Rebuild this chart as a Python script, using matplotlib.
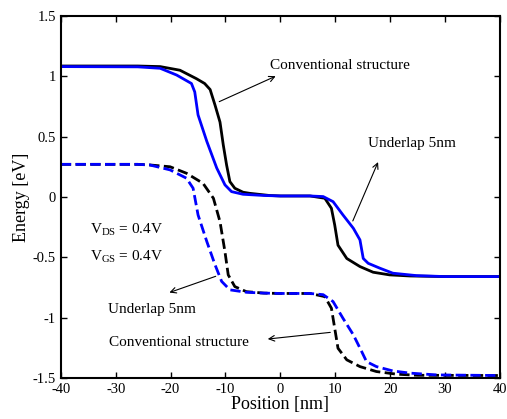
import matplotlib
matplotlib.use("Agg")
import matplotlib.pyplot as plt

plt.rcParams['font.family'] = ['Liberation Serif', 'DejaVu Serif']
plt.rcParams['axes.unicode_minus'] = False
plt.rcParams['mathtext.fontset'] = 'custom'
plt.rcParams['mathtext.rm'] = 'Liberation Serif'
plt.rcParams['mathtext.it'] = 'Liberation Serif:italic'

# conduction band, conventional structure
cb_conv_x = [-40, -26, -21.9, -18.3, -15.3, -13.8, -12.8, -11.9, -11.0, -10.4, -9.8, -9.2, -8.3, -6.8, -5.6, -2, 0, 5.4, 8.1, 9.3, 9.9, 10.5, 12.1, 14.5, 16.9, 19.9, 23.6, 30, 40]
cb_conv_y = [1.085, 1.085, 1.08, 1.05, 0.98, 0.94, 0.89, 0.76, 0.62, 0.43, 0.265, 0.127, 0.072, 0.039, 0.03, 0.012, 0.008, 0.008, -0.011, -0.094, -0.232, -0.40, -0.51, -0.577, -0.624, -0.646, -0.655, -0.66, -0.66]

# conduction band, underlap 5nm
cb_ul_x = [-40, -26, -21.9, -18.9, -16.2, -15.6, -15.0, -13.4, -11.6, -10.1, -8.9, -6.8, -3, 0, 5.4, 7.8, 9.6, 11.4, 13.3, 14.5, 15.1, 16.0, 18.1, 20.5, 24.8, 30, 40]
cb_ul_y = [1.08, 1.078, 1.066, 1.01, 0.94, 0.87, 0.68, 0.46, 0.24, 0.10, 0.044, 0.022, 0.012, 0.008, 0.008, 0.003, -0.039, -0.149, -0.26, -0.356, -0.51, -0.55, -0.59, -0.632, -0.652, -0.66, -0.66]

# valence band, conventional structure
vb_conv_x = [-40, -26, -23.8, -20.1, -17.1, -14.1, -12.2, -11.0, -10.1, -9.5, -8.3, -6.2, -3, 0, 5.4, 8.1, 9.3, 9.9, 10.5, 12.1, 14.5, 17.5, 21.2, 25, 40]
vb_conv_y = [0.27, 0.27, 0.265, 0.25, 0.196, 0.113, -0.011, -0.205, -0.453, -0.646, -0.743, -0.785, -0.797, -0.80, -0.80, -0.826, -0.922, -1.088, -1.254, -1.35, -1.406, -1.447, -1.469, -1.478, -1.48]

# valence band, underlap 5nm
vb_ul_x = [-40, -26, -23.8, -20.1, -17.1, -15.9, -15.0, -13.4, -11.9, -10.7, -9.2, -6.2, -3, 0, 5.4, 7.8, 9.6, 11.4, 13.3, 14.8, 15.7, 17.5, 20.5, 23.6, 28.5, 40]
vb_ul_y = [0.27, 0.27, 0.265, 0.224, 0.155, 0.072, -0.149, -0.37, -0.563, -0.70, -0.77, -0.79, -0.797, -0.80, -0.80, -0.81, -0.867, -1.005, -1.143, -1.28, -1.365, -1.406, -1.442, -1.46, -1.475, -1.48]

xticks = [-40, -30, -20, -10, 0, 10, 20, 30, 40]
yticks = [-1.5, -1, -0.5, 0, 0.5, 1, 1.5]
ytick_labels = ['-1.5', '-1', '-0.5', '0', '0.5', '1', '1.5']

fig = plt.figure(figsize=(5.07, 4.19), dpi=100)
ax = fig.add_axes([0.120, 0.098, 0.866, 0.864])

ax.plot(cb_conv_x, cb_conv_y, color='black', lw=2)
ax.plot(cb_ul_x, cb_ul_y, color='#0000ff', lw=2)
ax.plot(vb_conv_x, vb_conv_y, color='black', lw=2, ls='--')
ax.plot(vb_ul_x, vb_ul_y, color='#0000ff', lw=2, ls='--')

ax.set_xlim(-40, 40)
ax.set_ylim(-1.5, 1.5)
ax.set_xticks(xticks)
ax.set_xticklabels([str(t) for t in xticks])
ax.set_yticks(yticks)
ax.set_yticklabels(ytick_labels)
ax.tick_params(direction='in', top=True, right=True, labelsize=10.5, length=4, width=1)
for s in ax.spines.values():
    s.set_linewidth(1.5)

ax.set_xlabel('Position [nm]', fontsize=13, labelpad=0)
ax.set_ylabel('Energy [eV]', fontsize=13, labelpad=2)

arrow = dict(arrowstyle='->', color='black', lw=0.8)
tsize = 11
ax.annotate('', xy=(-0.4, 1.01), xytext=(-11.6, 0.78), arrowprops=arrow)
ax.text(-1.9, 1.09, 'Conventional structure', fontsize=tsize, va='center', ha='left')

ax.annotate('', xy=(18.0, 0.31), xytext=(13.0, -0.22), arrowprops=arrow)
ax.text(16.0, 0.44, 'Underlap 5nm', fontsize=tsize, va='center', ha='left')

ax.text(-34.6, -0.27, r'V$_{\mathrm{DS}}$ = 0.4V', fontsize=tsize, va='center', ha='left')
ax.text(-34.6, -0.50, r'V$_{\mathrm{GS}}$ = 0.4V', fontsize=tsize, va='center', ha='left')

ax.annotate('', xy=(-20.7, -0.80), xytext=(-11.3, -0.65), arrowprops=arrow)
ax.text(-31.4, -0.93, 'Underlap 5nm', fontsize=tsize, va='center', ha='left')

ax.annotate('', xy=(-2.8, -1.18), xytext=(9.6, -1.12), arrowprops=arrow)
ax.text(-31.2, -1.21, 'Conventional structure', fontsize=tsize, va='center', ha='left')

fig.savefig('out.png', dpi=100)
